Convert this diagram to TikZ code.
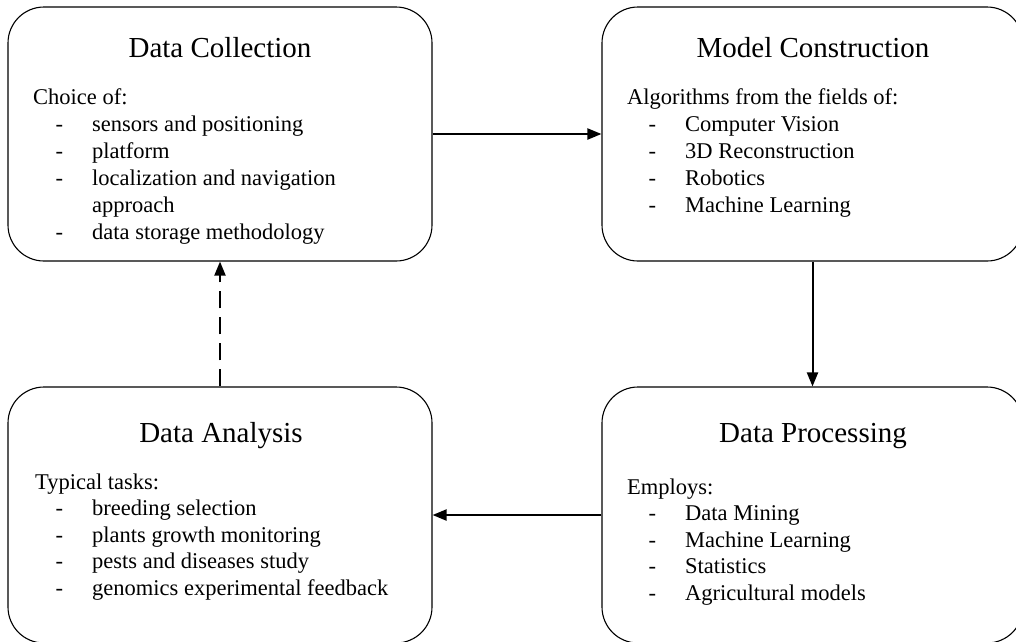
\documentclass[tikz,border=0pt]{standalone}
\usepackage{fontspec}
\setmainfont{Liberation Serif}
\usetikzlibrary{arrows.meta}

\tikzset{
  stage/.style={draw=black, line width=1.1pt, rounded corners=36pt, inner sep=0pt},
  heading/.style={anchor=base, inner sep=0pt, font=\fontsize{29}{34}\selectfont},
  entry/.style={anchor=base west, inner sep=0pt, font=\fontsize{22.5}{27}\selectfont},
  flow/.style={line width=2pt, -{Triangle[length=14pt,width=11pt]}},
  backflow/.style={flow, dash pattern=on 17pt off 9pt},
}
% list entry with a leading hyphen set to the left of the text
\newcommand\dashitem[1]{\llap{-\hspace{29pt}}#1}

\begin{document}
\begin{tikzpicture}[x=1pt, y=-1pt]
  \useasboundingbox (0,0) rectangle (1016,641);
  \clip (0,0) rectangle (1016,641);

  % the four stages
  \node[stage, minimum width=424pt, minimum height=254pt] (dc) at (220,134) {};
  \node[stage, minimum width=421pt, minimum height=254pt] (mc) at (812.5,134) {};
  \node[stage, minimum width=424pt, minimum height=256pt] (da) at (220,515) {};
  \node[stage, minimum width=421pt, minimum height=256pt] (dp) at (812.5,515) {};

  % Data Collection
  \node[heading] (dct) at (220,57) {Data Collection};
  \node[entry] (dc0) at (33,104.5) {Choice of:};
  \node[entry] (dc1) at (92,131.5) {\dashitem{sensors and positioning}};
  \node[entry] (dc2) at (92,158.5) {\dashitem{platform}};
  \node[entry] (dc3) at (92,185.5) {\dashitem{localization and navigation}};
  \node[entry] (dc4) at (92,212.5) {approach};
  \node[entry] (dc5) at (92,239.5) {\dashitem{data storage methodology}};

  % Model Construction
  \node[heading] (mct) at (813,57) {Model Construction};
  \node[entry] (mc0) at (627,104.5) {Algorithms from the fields of:};
  \node[entry] (mc1) at (685,131.5) {\dashitem{Computer Vision}};
  \node[entry] (mc2) at (685,158.5) {\dashitem{3D Reconstruction}};
  \node[entry] (mc3) at (685,185.5) {\dashitem{Robotics}};
  \node[entry] (mc4) at (685,212.5) {\dashitem{Machine Learning}};

  % Data Analysis
  \node[heading] (dat) at (221,442) {Data Analysis};
  \node[entry] (da0) at (35,489) {Typical tasks:};
  \node[entry] (da1) at (92,515.6) {\dashitem{breeding selection}};
  \node[entry] (da2) at (92,542.2) {\dashitem{plants growth monitoring}};
  \node[entry] (da3) at (92,568.8) {\dashitem{pests and diseases study}};
  \node[entry] (da4) at (92,595.4) {\dashitem{genomics experimental feedback}};

  % Data Processing
  \node[heading] (dpt) at (813,442) {Data Processing};
  \node[entry] (dp0) at (627,494) {Employs:};
  \node[entry] (dp1) at (685,520.6) {\dashitem{Data Mining}};
  \node[entry] (dp2) at (685,547.2) {\dashitem{Machine Learning}};
  \node[entry] (dp3) at (685,573.8) {\dashitem{Statistics}};
  \node[entry] (dp4) at (685,600.4) {\dashitem{Agricultural models}};

  % connectors
  \draw[flow] (dc.east) -- (mc.west);
  \draw[flow] (mc.south) -- (dp.north);
  \draw[flow] (dp.west) -- (da.east);
  \draw[backflow] (da.north) -- (dc.south);
\end{tikzpicture}
\end{document}
